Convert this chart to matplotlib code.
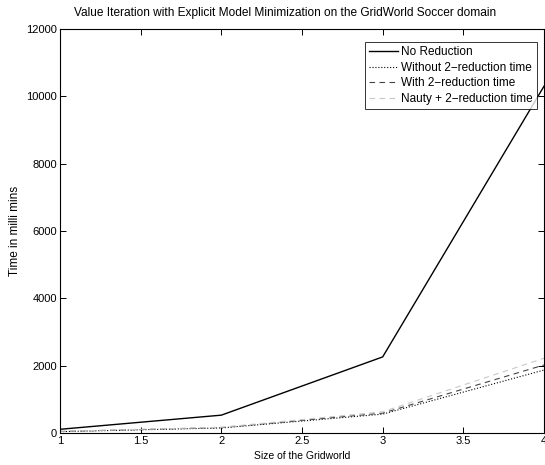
import matplotlib
matplotlib.use('Agg')
import matplotlib.pyplot as plt

plt.rcParams['font.family'] = ['Liberation Sans', 'DejaVu Sans']

# grid sizes
sizes = [1, 2, 3, 4]
no_reduction = [110, 530, 2260, 10300]
without_2red = [40, 150, 560, 1870]
with_2red = [45, 160, 590, 2020]
nauty_2red = [50, 170, 630, 2220]

fig = plt.figure(figsize=(5.45, 4.65), dpi=100)
ax = fig.add_axes([60/545, 32/465, 484/545, 404/465])

ax.plot(sizes, no_reduction, color='black', lw=1.0, label='No Reduction')
ax.plot(sizes, without_2red, color='black', lw=0.8, ls=':', label='Without 2\u2212reduction time')
ax.plot(sizes, with_2red, color='#444444', lw=0.8, ls=(0, (5, 4)), label='With 2\u2212reduction time')
ax.plot(sizes, nauty_2red, color='#c8c8c8', lw=0.8, ls=(0, (5, 4)), label='Nauty + 2\u2212reduction time')

ax.set_xlim(1, 4)
ax.set_ylim(0, 12000)
ax.set_xticks([1, 1.5, 2, 2.5, 3, 3.5, 4])
ax.set_xticklabels(['1', '1.5', '2', '2.5', '3', '3.5', '4'])
ax.set_yticks(range(0, 12001, 2000))
ax.tick_params(direction='in', labelsize=8, length=4, width=0.7, top=True, right=True, pad=2)
for s in ax.spines.values():
    s.set_linewidth(0.8)

ax.set_xlabel('Size of the Gridworld', fontsize=7.5, labelpad=4)
ax.set_ylabel('Time in milli mins', fontsize=8.5, labelpad=4)
fig.text(285/545, 1 - 13/465, 'Value Iteration with Explicit Model Minimization on the GridWorld Soccer domain',
         fontsize=8.6, ha='center', va='center')

leg = ax.legend(loc='upper right', fontsize=8.5, fancybox=False, edgecolor='black',
                handlelength=2.4, borderpad=0.35, labelspacing=0.3, handletextpad=0.3,
                borderaxespad=0, bbox_to_anchor=(537/545, 1 - 42/465), bbox_transform=fig.transFigure)
leg.get_frame().set_linewidth(0.7)

fig.savefig('out.png', dpi=100)
